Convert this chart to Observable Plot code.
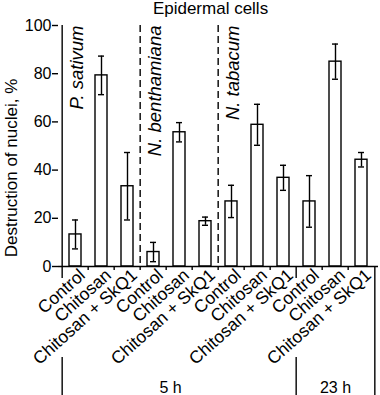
<!DOCTYPE html>
<html><head><meta charset="utf-8">
<script src="https://cdn.jsdelivr.net/npm/d3@7"></script>
<script src="https://cdn.jsdelivr.net/npm/@observablehq/plot@0.6"></script>
<style>body{margin:0;background:#fff} svg{display:block}</style>
</head><body><div id="chart"></div>
<script>
const categories = ["Control","Chitosan","Chitosan + SkQ1","Control","Chitosan","Chitosan + SkQ1","Control","Chitosan","Chitosan + SkQ1","Control","Chitosan","Chitosan + SkQ1"];
const values = [13.3, 79.3, 33.3, 6, 55.7, 18.8, 27, 58.8, 36.8, 27, 85, 44.3];
const errors = [6, 8, 14, 4, 4, 1.7, 6.7, 8.5, 5.2, 10.7, 7.3, 3];
const species = ["P. sativum", "N. benthamiana", "N. tabacum"];
const speciesStart = [0, 3, 6];
const times = ["5 h", "23 h"];
const timeStart = [0, 9];
const timeEnd = [8, 11];
const yTicks = [0, 20, 40, 60, 80, 100];
const title = "Epidermal cells";
const yLabel = "Destruction of nuclei, %";

const W = 380, H = 395, ML = 58, MR = 2, MT = 25, MB = 129;
const step = (W - ML - MR) / categories.length;
const ids = categories.map((c, i) => i);
const rows = ids.map(i => ({id: i, cat: categories[i], v: values[i], e: errors[i]}));
const spRows = species.map((s, k) => ({id: speciesStart[k], s}));
const tRows = times.map((t, k) => ({id: Math.floor((timeStart[k] + timeEnd[k]) / 2), t}));
const timeDx = [-9, 0];
const longBounds = timeStart;
const shortBounds = ids.filter(i => i > 0 && !timeStart.includes(i));
const sepBounds = speciesStart.slice(1);
const font = "'Liberation Sans', Arial, Helvetica, sans-serif";
const sw = 1.4;

const chart = Plot.plot({
  width: W, height: H,
  marginLeft: ML, marginRight: MR, marginTop: MT, marginBottom: MB,
  style: {fontFamily: font, background: "white", color: "black", overflow: "visible"},
  x: {type: "band", domain: ids, paddingInner: 0.55, paddingOuter: 0.275, axis: null},
  y: {domain: [0, 100]},
  marks: [
    Plot.ruleX(sepBounds, {x: d => d, dx: -step / 2, stroke: "black", strokeWidth: sw, strokeDasharray: "7,4"}),
    Plot.barY(rows, {x: "id", y: "v", fill: "white", stroke: "black", strokeWidth: sw}),
    Plot.ruleX(rows, {x: "id", y1: r => r.v - r.e, y2: r => r.v + r.e, stroke: "black", strokeWidth: sw}),
    Plot.tickY(rows, {x: "id", y: r => r.v + r.e, insetLeft: 3, insetRight: 3, stroke: "black", strokeWidth: sw}),
    Plot.tickY(rows, {x: "id", y: r => r.v - r.e, insetLeft: 3, insetRight: 3, stroke: "black", strokeWidth: sw}),
    Plot.ruleY([0], {stroke: "black", strokeWidth: sw}),
    Plot.ruleX([ids[0]], {x: d => d, dx: -step / 2, insetBottom: -12, stroke: "black", strokeWidth: sw}),
    Plot.ruleX(shortBounds, {x: d => d, dx: -step / 2, y1: 0, y2: 0, insetBottom: -4, stroke: "black", strokeWidth: sw}),
    Plot.ruleX(longBounds.filter(d => d > 0), {x: d => d, dx: -step / 2, y1: 0, y2: 0, insetBottom: -12, stroke: "black", strokeWidth: sw}),
    Plot.ruleX([ids[ids.length - 1]], {x: d => d, dx: step / 2, y1: 0, y2: 0, insetBottom: -129, stroke: "black", strokeWidth: sw}),
    Plot.ruleX(longBounds, {x: d => d, dx: -step / 2, insetTop: 332, insetBottom: -129, stroke: "black", strokeWidth: sw}),
    Plot.axisY({ticks: yTicks, tickSize: 6, tickPadding: 1, fontSize: 16, label: null, strokeWidth: sw}),
    Plot.text(rows, {x: "id", text: "cat", frameAnchor: "bottom", rotate: -42, textAnchor: "end", lineAnchor: "middle", dx: 7, dy: 6, fontSize: 17.5}),
    Plot.text(spRows, {x: "id", text: "s", frameAnchor: "top", rotate: -90, textAnchor: "end", lineAnchor: "middle", dx: 2, fontSize: 18.5, fontStyle: "italic"}),
    ...tRows.map((r, k) => Plot.text([r], {x: "id", text: "t", frameAnchor: "bottom", lineAnchor: "top", dx: timeDx[k], dy: 115, fontSize: 16})),
    Plot.text([title], {frameAnchor: "top", lineAnchor: "top", dx: -8, dy: -23.5, fontSize: 17}),
    Plot.text([yLabel], {frameAnchor: "left", rotate: -90, textAnchor: "middle", lineAnchor: "middle", dx: -47, dy: 22, fontSize: 17})
  ]
});
document.getElementById("chart").appendChild(chart);
</script>
</body></html>
